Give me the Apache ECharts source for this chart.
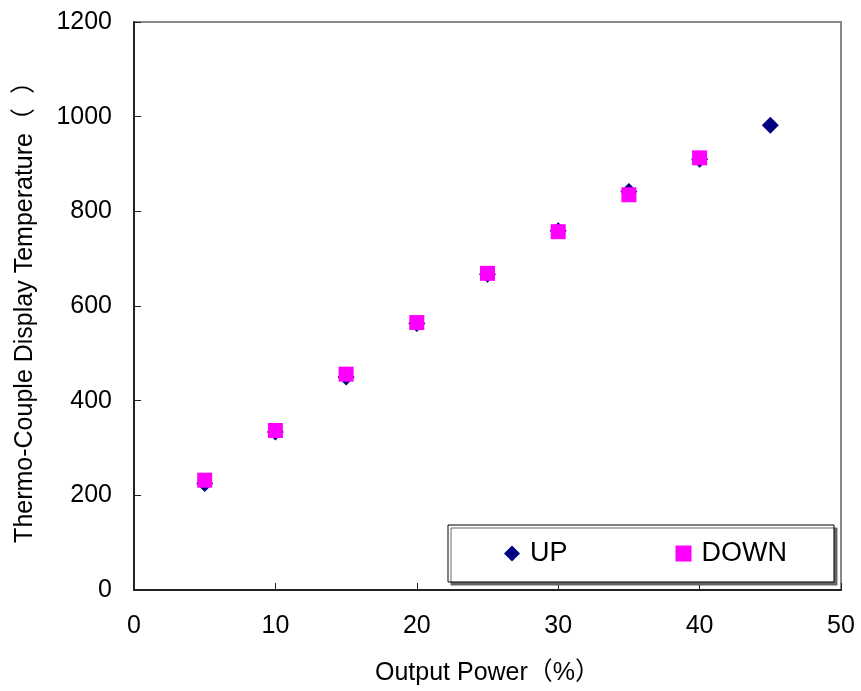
<!DOCTYPE html>
<html>
<head>
<meta charset="utf-8">
<script src="https://cdn.jsdelivr.net/npm/echarts@6/dist/echarts.min.js"></script>
<style>
  html, body { margin: 0; padding: 0; background: #fff; }
  #chart { width: 861px; height: 691px; }
</style>
</head>
<body>
<div id="chart"></div>
<script>
// output power (%)
const powerUp = [5, 10, 15, 20, 25, 30, 35, 40, 45];
const tempUp = [225, 334, 450, 563, 667, 759, 842, 910, 982];
const powerDown = [5, 10, 15, 20, 25, 30, 35, 40];
const tempDown = [232, 337, 456, 565, 669, 757, 835, 913];

const font = '"Liberation Sans", Arial, "Noto Sans CJK SC", sans-serif';

const chart = echarts.init(document.getElementById("chart"));

const axisCommon = {
  axisLine: { show: true, lineStyle: { color: "#222", width: 2 } },
  axisTick: { show: true, inside: true, length: 7, lineStyle: { color: "#222", width: 1 } },
  splitLine: { show: false },
  nameLocation: "middle",
  nameTextStyle: { fontFamily: font, fontSize: 25, color: "#000" },
};

const option = {
  backgroundColor: "#fff",
  animation: false,
  grid: {
    left: 134,
    right: 20,
    top: 22,
    bottom: 99,
    show: true,
    borderColor: "#888",
    borderWidth: 2,
  },
  xAxis: {
    ...axisCommon,
    type: "value",
    min: 0,
    max: 50,
    interval: 10,
    name: "Output Power（%）",
    nameGap: 71,
    axisLabel: { margin: 24, fontFamily: font, fontSize: 25, color: "#000" },
  },
  yAxis: {
    ...axisCommon,
    type: "value",
    min: 0,
    max: 1200,
    interval: 200,
    name: "Thermo-Couple Display Temperature（  ）",
    nameGap: 96,
    axisLabel: {
      margin: 22,
      fontFamily: font,
      fontSize: 25,
      color: "#000",
      formatter: (v) => String(v),
    },
  },
  legend: {
    left: 448,
    top: 525,
    orient: "horizontal",
    padding: [15, 47, 15, 56],
    itemWidth: 16,
    itemHeight: 16,
    itemGap: 108,
    borderColor: "#000",
    borderWidth: 1,
    backgroundColor: "#fff",
    shadowColor: "#666",
    shadowOffsetX: 3,
    shadowOffsetY: 3,
    shadowBlur: 0,
    textStyle: { fontFamily: font, fontSize: 27, color: "#000", padding: [0, 0, 0, 5] },
    data: ["UP", "DOWN"],
  },
  series: [
    {
      name: "UP",
      type: "scatter",
      symbol: "diamond",
      symbolSize: 17,
      itemStyle: { color: "#000080", opacity: 1 },
      data: powerUp.map((p, i) => [p, tempUp[i]]),
    },
    {
      name: "DOWN",
      type: "scatter",
      symbol: "rect",
      symbolSize: 15,
      itemStyle: { color: "#ff00ff", opacity: 1 },
      data: powerDown.map((p, i) => [p, tempDown[i]]),
    },
  ],
};

chart.setOption(option);
</script>
</body>
</html>
